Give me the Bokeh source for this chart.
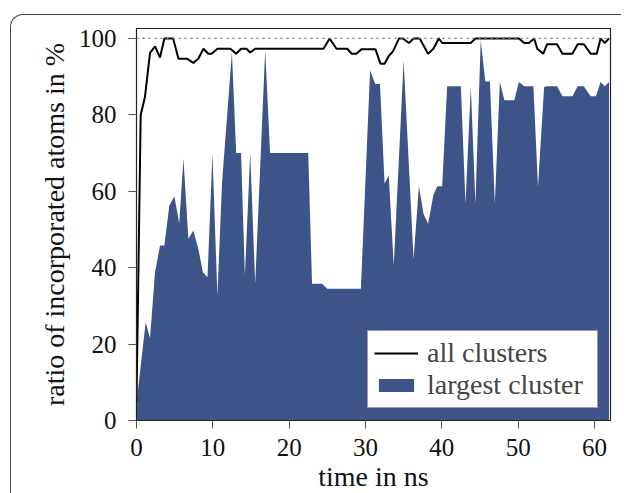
from bokeh.plotting import figure
from bokeh.models import Span, Legend, LegendItem, Range1d, FixedTicker, InlineStyleSheet
from bokeh.embed import file_html
from bokeh.resources import INLINE

# ---- data ----
t_all = [0, 0.55, 1.1, 1.77, 2.43, 3.08, 3.65, 4.8, 5.5, 6.6, 7.45, 8.1, 8.77, 9.4, 9.85,
         10.6, 12.3, 13.06, 13.7, 14.4, 14.9, 15.55, 24.5, 25.3, 26.2, 27.6, 28.2, 28.8,
         29.5, 31.3, 31.96, 32.5, 33.05, 33.6, 34.4, 34.9, 35.7, 36.3, 37.1, 38.2, 38.9,
         39.6, 40.05, 43.8, 44.4, 50.1, 50.8, 51.4, 52.1, 52.5, 53.3, 53.8, 55.1, 55.8,
         57.1, 57.8, 58.6, 59.5, 60.3, 60.8, 61.35, 61.9]
all_clusters = [5, 80, 84.6, 96.2, 97.9, 95, 100, 100, 94.7, 94.7, 93.6, 94.7, 97.3, 96, 96,
                97.3, 97.3, 96, 97.3, 97.3, 96.3, 97.3, 97.3, 100, 97.3, 97.3, 96, 96,
                97.2, 97.2, 93.4, 93.4, 95.4, 96.6, 100, 100, 98.8, 100, 100, 96, 97.3,
                100, 98.8, 98.8, 100, 100, 98.8, 98.8, 100, 97.3, 96, 98.5, 98.5, 96,
                96, 98.5, 98.5, 96, 96, 100, 98.8, 100]

t_largest = [0, 1.2, 1.77, 2.43, 3.08, 3.65, 4.3, 4.96, 5.6, 6.15, 6.8, 7.45, 8.1, 8.7, 9.3,
             9.95, 10.6, 11.2, 12.5, 13.06, 13.7, 14.2, 14.9, 15.55, 16.86, 17.5, 22.5, 23.0,
             24.3, 25.0, 29.4, 30.6, 31.3, 31.9, 32.5, 33.05, 33.7, 35.0, 36.3, 37.0, 37.6,
             38.2, 38.9, 39.4, 40.05, 40.7, 42.5, 43.1, 43.8, 44.4, 45.1, 45.7, 46.3, 46.95,
             47.6, 48.2, 49.5, 50.1, 50.8, 52.0, 52.6, 53.4, 53.8, 55.1, 55.8, 57.1, 57.8,
             58.6, 59.5, 60.2, 60.8, 61.35, 61.9]
largest_cluster = [4.5, 25.7, 21.6, 38.8, 45.8, 45.8, 56.3, 58.7, 51.6, 68.5, 47.6, 49.7, 44.9,
                   38.8, 37.5, 69.8, 32.7, 62, 96.4, 70, 70, 37.9, 70, 35.8, 97, 70, 70, 35.8,
                   35.8, 34.5, 34.5, 91.6, 88.1, 88.1, 62, 64.1, 40.6, 94.2, 42.3, 61.3, 54.1,
                   51.5, 59, 61.3, 61.3, 87.5, 87.5, 56.7, 87.3, 56.7, 99.5, 88.7, 88.7, 56.7,
                   88.6, 83.8, 83.8, 88.6, 87.5, 87.5, 61.1, 87.3, 87.5, 87.5, 84.9, 84.9, 87.5,
                   87.5, 84.9, 84.9, 88.6, 87.5, 88.6]

x_ticks = [0, 10, 20, 30, 40, 50, 60]
y_ticks = [0, 20, 40, 60, 80, 100]

FONT = "'Liberation Serif', 'DejaVu Serif', serif"
BLUE = "#3C5488"

frame_css = InlineStyleSheet(css="""
:host { position: relative; }
:host::after {
  content: ""; position: absolute; left: 10px; top: 14px; right: 0px; bottom: 0px;
  border-left: 1.3px solid #444; border-top: 1.3px solid #444;
  border-top-left-radius: 13px; pointer-events: none; z-index: 5;
}
""")

p = figure(frame_width=474, frame_height=392, output_backend="svg", toolbar_location=None,
           x_range=Range1d(0, 62.1), y_range=Range1d(0, 102.6),
           min_border_left=136, min_border_right=11, min_border_top=28, min_border_bottom=65,
           stylesheets=[frame_css])
p.xgrid.visible = False
p.ygrid.visible = False
p.outline_line_color = "#222222"
p.outline_line_width = 1.2
p.background_fill_color = "white"
p.border_fill_color = "white"

area = p.varea(x=t_largest, y1=0, y2=largest_cluster, fill_color=BLUE, fill_alpha=1)
p.add_layout(Span(location=100, dimension="width", line_color="#777777",
                  line_dash="2 4", line_width=1.2))
line = p.line(t_all, all_clusters, line_color="black", line_width=2)

for ax in (p.xaxis[0], p.yaxis[0]):
    ax.major_label_text_font = FONT
    ax.major_label_text_font_size = "25px"
    ax.major_label_text_color = "#111111"
    ax.axis_label_text_font = FONT
    ax.axis_label_text_font_size = "28px"
    ax.axis_label_text_font_style = "normal"
    ax.axis_label_text_color = "#111111"
    ax.minor_tick_line_color = None
    ax.major_tick_in = 0
    ax.major_tick_out = 8
    ax.major_tick_line_color = "#555555"
    ax.axis_line_color = "#222222"

p.xaxis.ticker = FixedTicker(ticks=x_ticks)
p.yaxis.ticker = FixedTicker(ticks=y_ticks)
p.xaxis.axis_label = "time in ns"
p.yaxis.axis_label = "ratio of incorporated atoms in %"
p.xaxis.major_label_standoff = 10
p.xaxis.axis_label_standoff = 2
p.yaxis.major_label_standoff = 12
p.yaxis.axis_label_standoff = 6

legend = Legend(items=[LegendItem(label="all clusters", renderers=[line]),
                       LegendItem(label="largest cluster", renderers=[area])],
                location="bottom_right", margin=12, padding=6, spacing=0,
                glyph_width=44, glyph_height=16, label_standoff=9, label_width=164,
                label_text_font=FONT, label_text_font_size="28px",
                border_line_color="#58266e", border_line_width=1.2,
                background_fill_alpha=1)
p.add_layout(legend, "center")

open("out.html", "w").write(file_html(p, INLINE))
